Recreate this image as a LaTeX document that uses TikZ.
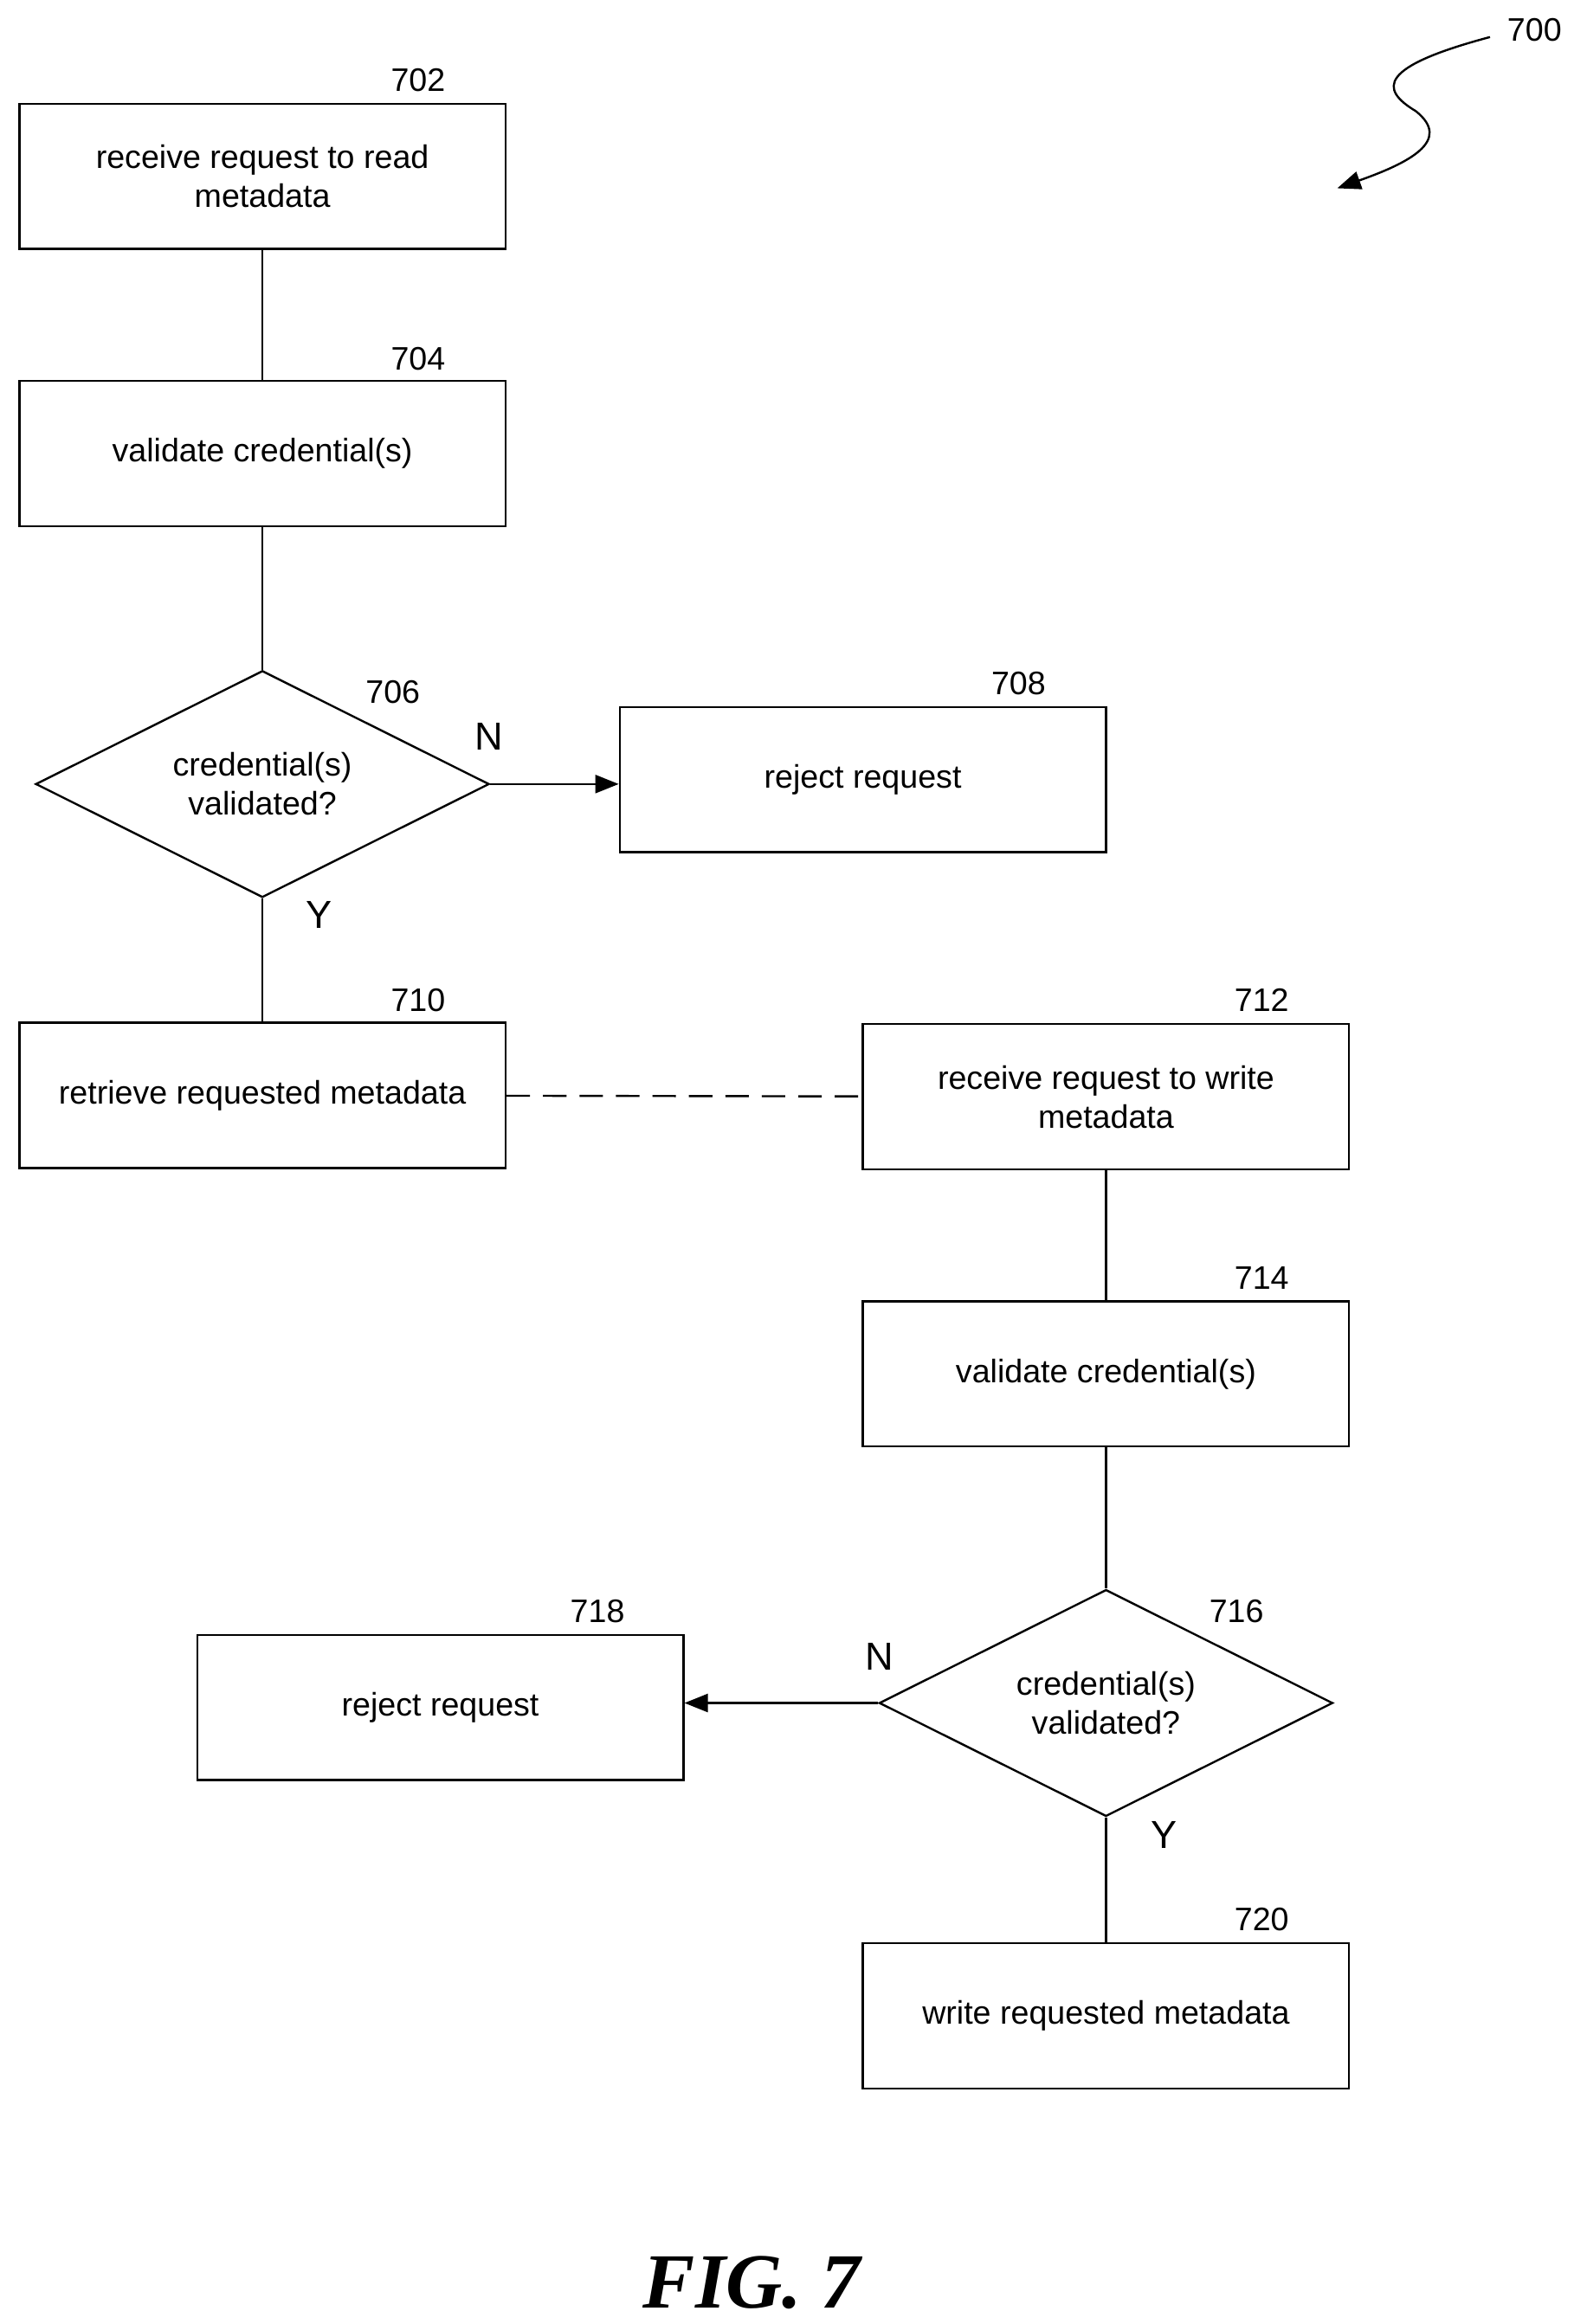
\documentclass[tikz,border=0pt]{standalone}
\usepackage{fontspec}
\setmainfont{Liberation Sans}
\newfontfamily\figfont{Liberation Serif}
\usetikzlibrary{shapes.geometric,arrows.meta}
\begin{document}
\begin{tikzpicture}[
    x=0.02cm, y=-0.02cm,
    font=\fontsize{12.5}{15}\selectfont,
    flowbox/.style={draw, line width=0.8pt, minimum width=6.56cm, minimum height=1.96cm, align=center, inner sep=2pt},
    decide/.style={draw, line width=0.8pt, diamond, aspect=2, minimum width=6.12cm, minimum height=3.06cm, align=center, inner sep=0pt},
    refnum/.style={font=\fontsize{12.5}{15}\selectfont},
    link/.style={line width=0.8pt},
    normal line/.style={line width=0.8pt, -{Triangle[length=9pt,width=7pt]}}
    ]
\useasboundingbox (0,0) rectangle (1070,1568);
% read path
\node[flowbox] (read) at (177,119) {receive request to read\\metadata};
\node[flowbox] (valr) at (177,306) {validate credential(s)};
\node[decide] (chkr) at (177,529) {credential(s)\\validated?};
\node[flowbox] (rejr) at (582,526) {reject request};
\node[flowbox] (get) at (177,739) {retrieve requested metadata};
% write path
\node[flowbox] (write) at (746,740) {receive request to write\\metadata};
\node[flowbox] (valw) at (746,927) {validate credential(s)};
\node[decide] (chkw) at (746,1149) {credential(s)\\validated?};
\node[flowbox] (rejw) at (297,1152) {reject request};
\node[flowbox] (put) at (746,1360) {write requested metadata};
% reference numerals
\node[refnum] at (282,54) {702};
\node[refnum] at (282,242) {704};
\node[refnum] at (265,467) {706};
\node[refnum] at (687,461) {708};
\node[refnum] at (282,675) {710};
\node[refnum] at (851,675) {712};
\node[refnum] at (851,862) {714};
\node[refnum] at (834,1087) {716};
\node[refnum] at (403,1087) {718};
\node[refnum] at (851,1295) {720};
\node[refnum] (fig) at (1035,20) {700};
\coordinate (figtip) at (902,127);
% connectors
\draw[link] (read) -- (valr);
\draw[link] (valr) -- (chkr);
\draw[normal line] (chkr.east) -- (rejr.west |- chkr.east);
\draw[link] (chkr) -- (get);
\draw[link, dash pattern=on 9pt off 5pt] (get) -- (write);
\draw[link] (write) -- (valw);
\draw[link] (valw) -- (chkw);
\draw[normal line] (chkw.west) -- (rejw.east |- chkw.west);
\draw[link] (chkw) -- (put);
\node at (330,497) {\fontsize{15}{18}\selectfont N};
\node at (215,617) {\fontsize{15}{18}\selectfont Y};
\node at (593,1118) {\fontsize{15}{18}\selectfont N};
\node at (785,1238) {\fontsize{15}{18}\selectfont Y};
\draw[normal line] (1005,25) .. controls (930,45) and (930,60) .. (955,75) .. controls (980,95) and (950,110) .. (figtip);
\node[font=\figfont\bfseries\itshape\fontsize{30}{34}\selectfont] (cap) at (507,1540) {FIG. 7};
\end{tikzpicture}
\end{document}
